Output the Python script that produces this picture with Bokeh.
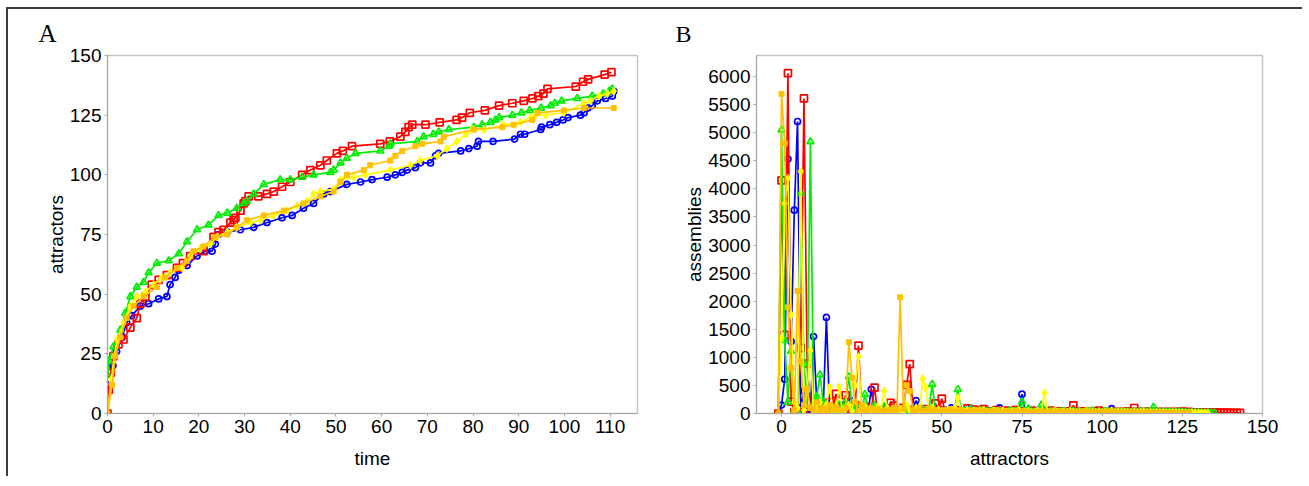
from bokeh.plotting import figure
from bokeh.layouts import row
from bokeh.models import SingleIntervalTicker, Range1d
from bokeh.embed import file_html
from bokeh.resources import INLINE

# ---------------- Panel A: attractors vs time ----------------
red_t = [0, 0.3, 0.7, 1.3, 2.4, 3.5, 5, 6.4, 7.2, 8.3, 9.7, 11.2, 13, 15.2, 16.5, 18.1, 21, 23.2, 24.3, 25.4,
         26.9, 27.6, 28, 29.1, 29.8, 30.2, 30.9, 33, 34.9, 36.4, 38.2, 40, 42.6, 44.4, 46.6, 48, 50.2, 51.5,
         53.5, 59.7, 61.8, 64.1, 65.2, 65.9, 66.7, 69.6, 72.7, 76.4, 77.6, 79.3, 82.6, 85.7, 88.6, 91.1, 93,
         94.3, 95.4, 96.3, 102.5, 104.1, 105.2, 108.8, 110.3]
red_n = [0, 10, 17, 24, 29, 31, 36, 40, 46, 49, 54, 56, 58, 61, 63, 66, 68, 74, 76, 77,
         80, 81, 82, 85, 88, 89, 91, 91, 92, 93, 95, 97, 100, 102, 104, 106, 109, 110,
         112, 113, 114, 116, 118, 120, 121, 121, 122, 123, 124, 126, 127, 129, 130, 131, 132,
         133, 134, 136, 137, 139, 140, 142, 143]

green_t = [0, 0.3, 1.3, 2.8, 3.9, 5, 6.4, 7.9, 9, 10.8, 13.4, 15.6, 17.4, 19.6, 22.1, 24.3, 26.2, 28.3,
           29.8, 30.5, 32, 34.2, 37.8, 40, 42.6, 45.1, 48.8, 49.5, 51, 52.4, 54.3, 59.7, 61.6, 61.9, 67.8,
           69.2, 71.3, 72.5, 74.7, 80.2, 82, 83.8, 84.9, 85.7, 88.6, 90.6, 92.4, 94.9, 97, 97.9, 99.4,
           102.8, 106.1, 108.5, 109.8, 110.5]
green_n = [16, 22, 28, 35, 42, 49, 53, 55, 59, 63, 64, 67, 72, 77, 79, 83, 84, 86,
           88, 89, 92, 96, 98, 98, 99, 100, 101, 102, 105, 107, 109, 110, 112, 113, 114,
           116, 117, 118, 119, 120, 121, 122, 123, 124, 125, 126, 127, 128, 129, 130, 131,
           132, 133, 134, 135, 136]

blue_t = [0, 0.5, 1.2, 2, 3.2, 4.2, 5.3, 7.2, 9, 11.2, 13, 13.7, 14.8, 15.6, 17.4, 19.6, 21.4, 22.9,
          23.6, 24.3, 26.2, 29.1, 32, 34.9, 38.2, 40.4, 42.9, 45.1, 47.3, 48.8, 52.4, 55.4, 57.9, 61.2,
          63, 64.5, 65.6, 67.4, 68.5, 70.7, 71.8, 72.5, 77.3, 79.1, 80.9, 81.2, 84.4, 89.1, 90.4, 91.3,
          94.8, 95, 96.8, 98.3, 99.7, 100.8, 103.5, 104.3, 105.1, 106.1, 107.2, 109, 110.5, 110.8]
blue_n = [0, 12, 20, 26, 32, 38, 41, 45, 46, 48, 49, 54, 57, 60, 62, 66, 68, 68,
          71, 75, 76, 77, 78, 80, 82, 83, 86, 88, 92, 93, 96, 97, 98, 99,
          100, 101, 102, 103, 105, 105, 108, 109, 110, 111, 112, 114, 114, 115, 117, 117,
          119, 120, 121, 122, 123, 124, 125, 126, 128, 129, 131, 132, 133, 135]

orange_t = [0, 1, 1.7, 2.8, 4.2, 5.7, 7.9, 10.8, 12.6, 15.2, 17.4, 18.8, 21, 23.6, 26.2, 28.3, 30.5,
            34.2, 38.6, 42.9, 46.6, 49.5, 51, 52.4, 56.1, 57.5, 61.9, 63, 64.5, 67.4, 68.9, 72.9, 73.6,
            80.2, 86.4, 88.9, 93, 94.1, 99.9, 104.3, 110.8]
orange_n = [0, 12, 24, 32, 40, 45, 49, 53, 57, 61, 64, 68, 70, 74, 75, 78, 81,
            83, 85, 88, 91, 93, 97, 100, 102, 104, 106, 108, 110, 112, 113, 114, 116,
            119, 120, 121, 123, 126, 127, 128, 128]

yellow_t = [0, 0.8, 1.5, 2.1, 3.5, 5, 6.4, 8.3, 10.1, 11.9, 13.7, 16.3, 18.1, 20.3, 22.5, 24, 26.2,
            28.3, 31.3, 33.5, 36.4, 39.3, 41.5, 43.7, 45.1, 46.6, 49.5, 51, 53.9, 56.4, 61.9, 66.3,
            68.5, 72.2, 74.3, 76.5, 78.4, 79.8, 82.4, 86.7, 90.4, 92.6, 93.7, 95.9, 99.9, 104.3, 105.7,
            107.6, 109.4, 110.8]
yellow_n = [0, 14, 24, 31, 38, 45, 49, 51, 54, 57, 59, 61, 66, 69, 71, 74, 76,
            78, 80, 81, 83, 85, 87, 89, 92, 93, 94, 98, 99, 100, 102, 104,
            106, 108, 111, 114, 117, 119, 119, 121, 122, 124, 125, 125, 126, 130, 131,
            133, 134, 135]

# ---------------- Panel B: assemblies per attractor (index starts at -1) ----------------
red_b = [0, 4150, 1400, 6060, 210, 20, 30, 1170, 5610, 890,
         60, 120, 40, 150, 80, 30, 200, 60, 350, 40,
         100, 325, 90, 30, 150, 1210, 40, 120, 20, 80,
         460, 30, 60, 20, 50, 190, 140, 30, 60, 100,
         510, 880, 60, 20, 40, 30, 80, 30, 60, 180,
         60, 265, 40, 20, 50,
         30, 60, 20, 40, 90, 30, 70, 20, 50, 80,
         30, 40, 20, 60, 30, 20, 50, 40, 30, 60,
         20, 40, 30, 20, 50, 30, 20, 40, 30, 20,
         50, 30, 20, 40, 30, 20, 40, 146, 30, 20,
         40, 30, 20, 30, 20, 50, 30, 20, 30, 20,
         30, 20, 30, 20, 40, 30, 98, 30, 20, 30,
         20, 30, 20, 30, 20, 30, 20, 30, 20, 30,
         25, 35, 20, 30, 20, 20, 20, 15, 20, 15,
         20, 15, 15, 15, 10, 15, 10, 10, 10, 10]

green_b = [0, 5050, 1300, 200, 1110, 60, 30, 3920, 890, 100,
           4840, 150, 300, 690, 200, 50, 20, 100, 60, 150,
           40, 200, 655, 120, 30, 80, 40, 340, 60, 30,
           150, 20, 50, 120, 40, 30, 80, 20, 50, 30,
           100, 40, 60, 20, 30, 80, 40, 100, 520, 30,
           60, 20, 40, 30, 60, 80, 430, 30, 50, 20,
           80, 40, 30, 60, 20, 40, 30, 50, 20, 40,
           30, 20, 50, 30, 40, 20, 205, 40, 86, 30,
           20, 40, 146, 30, 20, 40, 30, 20, 30, 40,
           20, 30, 40, 20, 30, 20, 40, 30, 50, 20,
           30, 20, 40, 30, 20, 30, 20, 30, 20, 30,
           20, 30, 20, 40, 30, 20, 30, 111, 30, 20,
           30, 20, 30, 20, 20, 30, 20, 20, 15, 20,
           15, 20, 15, 10, 15, 10, 10]

blue_b = [0, 150, 610, 4530, 1280, 3620, 5200, 100, 400, 50,
          30, 1370, 200, 60, 80, 1710, 30, 100, 40, 20,
          150, 30, 60, 220, 40, 30, 80, 20, 40, 430,
          30, 60, 20, 40, 100, 30, 20, 60, 30, 40,
          20, 60, 80, 230, 50, 30, 20, 60, 30, 40,
          20, 30, 60, 40, 100, 30, 20, 40, 30, 60,
          90, 30, 20, 40, 30, 60, 20, 30, 40, 100,
          30, 20, 40, 30, 20, 30, 345, 40, 20, 30,
          40, 20, 30, 20, 40, 30, 20, 30, 20, 40,
          30, 20, 30, 40, 20, 30, 20, 30, 20, 40,
          30, 20, 30, 20, 86, 30, 20, 30, 20, 30,
          20, 30, 20, 30, 20, 40, 20, 30, 20, 30,
          20, 20, 30, 20, 15, 20, 15, 20, 15, 15,
          10, 15, 10, 10, 10]

orange_b = [0, 5690, 4810, 1890, 810, 60, 2180, 930, 150, 440,
            100, 60, 200, 30, 100, 50, 150, 30, 120, 60,
            20, 100, 1270, 635, 200, 40, 150, 60, 20, 100,
            30, 80, 40, 20, 60, 30, 100, 40, 2070, 80,
            505, 400, 60, 30, 100, 20, 50, 80, 30, 60,
            20, 40, 60, 30, 80, 20, 40, 60, 30, 20,
            50, 30, 60, 20, 40, 30, 20, 50, 60, 30,
            20, 40, 30, 20, 50, 30, 20, 40, 30, 20,
            30, 20, 40, 30, 20, 30, 20, 30, 40, 20,
            30, 20, 30, 20, 30, 20, 40, 20, 30, 20,
            30, 20, 30, 20, 30, 20, 20, 30, 20, 20,
            30, 20, 20, 20, 15, 20, 15, 20, 15, 20,
            15, 15, 10, 15, 10, 10, 10, 10, 10]

yellow_b = [0, 1340, 3740, 4190, 1760, 200, 100, 4310, 60, 400,
            1120, 50, 100, 200, 40, 150, 470, 60, 100, 470,
            30, 80, 150, 40, 500, 1010, 60, 120, 30, 80,
            40, 120, 60, 400, 100, 30, 60, 20, 80, 40,
            150, 60, 30, 100, 40, 620, 455, 50, 100, 30,
            60, 40, 20, 60, 30, 100, 280, 40, 20, 60,
            30, 50, 20, 40, 60, 30, 20, 40, 30, 20,
            50, 30, 20, 40, 30, 60, 20, 30, 40, 20,
            30, 40, 20, 366, 30, 20, 40, 30, 20, 30,
            20, 40, 30, 20, 30, 20, 40, 20, 30, 20,
            30, 20, 30, 20, 40, 20, 30, 20, 30, 20,
            20, 30, 20, 20, 30, 20, 20, 15, 20, 15,
            20, 15, 15, 20, 15, 10, 15, 10, 10, 15,
            10, 10, 10, 10, 10]

RED = "#ff0000"
GREEN = "#00ee00"
BLUE = "#0000ff"
ORANGE = "#ffc000"
YELLOW = "#ffff00"


def style(p, panel_letter, letter_offset, letter_standoff, letter_size):
    p.outline_line_color = "#c4c4c4"
    p.outline_line_width = 1.5
    p.xgrid.visible = False
    p.ygrid.visible = False
    p.background_fill_color = "white"
    p.border_fill_color = "white"
    for ax in (p.xaxis[0], p.yaxis[0]):
        ax.axis_line_color = "#a8a8a8"
        ax.axis_line_width = 1
        ax.major_tick_line_color = "#a8a8a8"
        ax.minor_tick_line_color = None
        ax.major_tick_out = 3
        ax.major_tick_in = 0
        ax.major_label_text_font = "Liberation Sans"
        ax.major_label_text_font_size = "19px"
        ax.major_label_text_color = "black"
        ax.axis_label_text_font = "Liberation Sans"
        ax.axis_label_text_font_size = "19px"
        ax.axis_label_text_font_style = "normal"
        ax.axis_label_text_color = "black"
        ax.major_label_standoff = 2
    p.xaxis[0].axis_label_standoff = 12
    p.yaxis[0].axis_label_standoff = 0
    p.title.text = panel_letter
    p.title.align = "left"
    p.title.offset = letter_offset
    p.title.standoff = letter_standoff
    p.title.text_font = "Liberation Serif"
    p.title.text_font_size = letter_size
    p.title.text_font_style = "normal"
    p.title.text_color = "black"


def draw(p, xs, ys, color, marker, size, filled):
    p.line(xs, ys, line_color=color, line_width=1.7)
    if filled:
        p.scatter(xs, ys, marker=marker, size=size, fill_color=color, line_color=color, line_width=1)
    else:
        p.scatter(xs, ys, marker=marker, size=size, fill_color=None, line_color=color, line_width=1.7)


# ---------- figure A ----------
pA = figure(width=662, height=467, output_backend="svg", toolbar_location=None,
            x_range=Range1d(0, 116), y_range=Range1d(0, 150),
            min_border_left=99, min_border_right=33, min_border_top=46, min_border_bottom=62)
style(pA, "A", -69, 17, "25px")
pA.xaxis.axis_label = "time"
pA.yaxis.axis_label = "attractors"
pA.xaxis.ticker = SingleIntervalTicker(interval=10)
pA.yaxis.ticker = SingleIntervalTicker(interval=25)

draw(pA, blue_t, blue_n, BLUE, "circle", 6, False)
draw(pA, red_t, red_n, RED, "square", 7, False)
draw(pA, green_t, green_n, GREEN, "triangle", 7, False)
draw(pA, yellow_t, yellow_n, YELLOW, "diamond", 8, True)
draw(pA, orange_t, orange_n, ORANGE, "square", 5, True)

# ---------- figure B ----------
pB = figure(width=632, height=467, output_backend="svg", toolbar_location=None,
            x_range=Range1d(-7.8, 150), y_range=Range1d(0, 6375),
            min_border_left=86, min_border_right=40, min_border_top=45, min_border_bottom=63)
style(pB, "B", -81, 17, "24px")
pB.xaxis.axis_label = "attractors"
pB.yaxis.axis_label = "assemblies"
pB.xaxis.ticker = SingleIntervalTicker(interval=25)
pB.yaxis.ticker = SingleIntervalTicker(interval=500)


def idx(vals):
    return list(range(-1, len(vals) - 1))


draw(pB, idx(blue_b), blue_b, BLUE, "circle", 6, False)
draw(pB, idx(red_b), red_b, RED, "square", 7, False)
draw(pB, idx(green_b), green_b, GREEN, "triangle", 7, False)
draw(pB, idx(yellow_b), yellow_b, YELLOW, "diamond", 8, True)
draw(pB, idx(orange_b), orange_b, ORANGE, "square", 5, True)

layout = row(pA, pB, styles={"margin-left": "6px", "margin-top": "7px",
                             "border-left": "2px solid #3c3c3c", "border-top": "2px solid #3c3c3c"})

open("out.html", "w").write(file_html(layout, INLINE))
